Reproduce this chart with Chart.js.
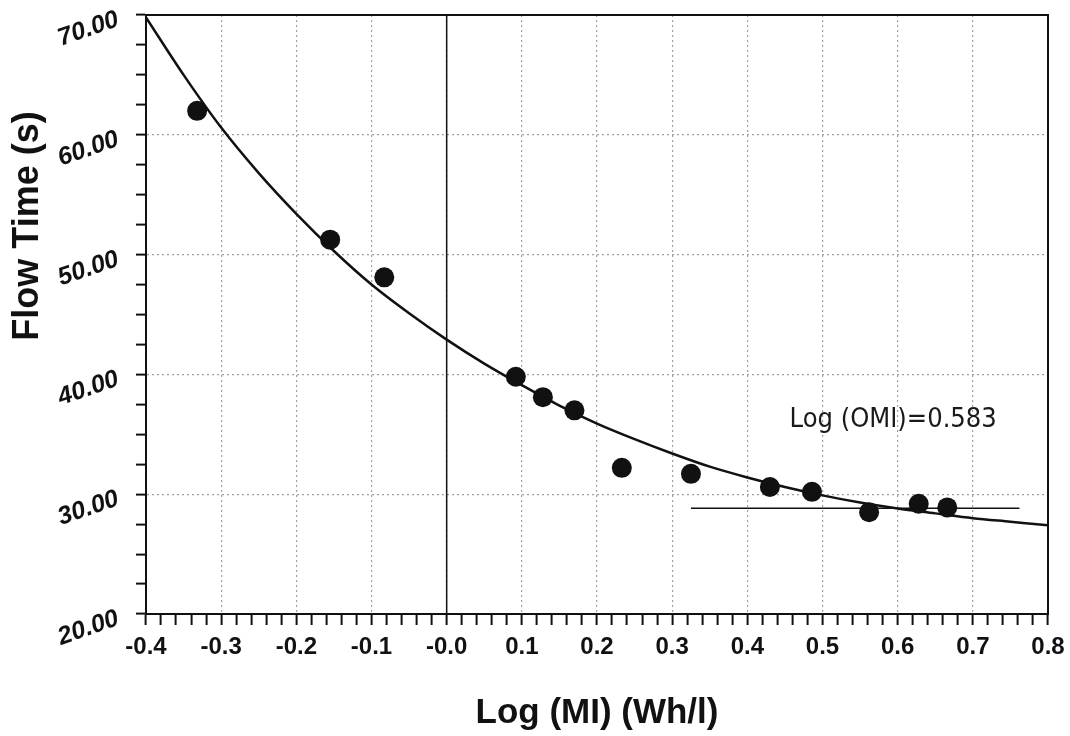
<!DOCTYPE html>
<html>
<head>
<meta charset="utf-8">
<title>Flow Time vs Log (MI)</title>
<script src="https://cdn.jsdelivr.net/npm/chart.js@4/dist/chart.umd.min.js"></script>
<style>
  html, body { margin: 0; padding: 0; background: #fff; }
  #wrap { width: 1070px; height: 736px; }
</style>
</head>
<body>
<div id="wrap"><canvas id="flowChart"></canvas></div>
<script>
// measured points (log MI, flow time)
const pointX = [-0.332, -0.155, -0.083, 0.092, 0.128, 0.170, 0.233, 0.325, 0.430, 0.486, 0.562, 0.628, 0.666];
const pointY = [62.0, 51.25, 48.1, 39.8, 38.1, 37.0, 32.2, 31.7, 30.6, 30.2, 28.5, 29.2, 28.9];

// fitted curve
const curveX = [-0.40, -0.35, -0.30, -0.25, -0.20, -0.15, -0.10, -0.05, 0.00, 0.05, 0.10, 0.15, 0.20,
                0.25, 0.30, 0.35, 0.40, 0.45, 0.50, 0.55, 0.60, 0.65, 0.70, 0.75, 0.80];
const curveY = [69.8, 65.0, 60.6, 56.8, 53.4, 50.3, 47.5, 45.1, 42.9, 40.9, 39.1, 37.4, 35.9,
                34.6, 33.4, 32.3, 31.4, 30.6, 29.9, 29.3, 28.8, 28.4, 28.0, 27.7, 27.4];

// reference lines
const zeroLineX = [0, 0];
const zeroLineY = [20, 70];
const omiLineX = [0.325, 0.762];
const omiLineY = [28.83, 28.83];

// annotation
const noteText = "Log (OMI)=0.583";
const noteX = 0.594;
const noteY = 36.2;

const xMin = -0.4, xMax = 0.8;
const yMin = 20, yMax = 70;
const xTitle = "Log (MI) (Wh/l)";
const yTitle = "Flow Time (s)";

const toPts = (xs, ys) => xs.map((x, i) => ({ x: x, y: ys[i] }));

const isMajorX = (v) => Math.round(v * 100) % 10 === 0;
const isMajorY = (v) => Math.round(v * 10) % 100 === 0;

// frame, y title and the OMI note
const extras = {
  id: "extras",
  afterDraw(chart) {
    const { ctx, chartArea, scales } = chart;
    ctx.save();
    ctx.strokeStyle = "#111";
    ctx.lineWidth = 2;
    ctx.strokeRect(chartArea.left, chartArea.top, chartArea.right - chartArea.left, chartArea.bottom - chartArea.top);

    ctx.fillStyle = "#1a1a1a";
    ctx.font = '27px "DejaVu Sans Condensed", "DejaVu Sans", sans-serif';
    ctx.textAlign = "center";
    ctx.textBaseline = "middle";
    ctx.fillText(noteText, scales.x.getPixelForValue(noteX), scales.y.getPixelForValue(noteY));

    ctx.translate(28, 226);
    ctx.rotate(-Math.PI / 2);
    ctx.fillStyle = "#111";
    ctx.font = 'bold 36px "Liberation Sans", Arial, sans-serif';
    ctx.fillText(yTitle, 0, 0);
    ctx.restore();
  }
};

new Chart(document.getElementById("flowChart"), {
  type: "scatter",
  data: {
    datasets: [
      {
        type: "line",
        label: "fit",
        data: toPts(curveX, curveY),
        borderColor: "#111",
        borderWidth: 2.5,
        pointRadius: 0,
        cubicInterpolationMode: "monotone",
        order: 1
      },
      {
        label: "measured",
        data: toPts(pointX, pointY),
        backgroundColor: "#111",
        borderWidth: 0,
        pointRadius: 10,
        order: 2
      },
      {
        type: "line",
        label: "zero",
        data: toPts(zeroLineX, zeroLineY),
        borderColor: "#111",
        borderWidth: 1.5,
        pointRadius: 0,
        order: 3
      },
      {
        type: "line",
        label: "omi",
        data: toPts(omiLineX, omiLineY),
        borderColor: "#111",
        borderWidth: 1.5,
        pointRadius: 0,
        order: 3
      }
    ]
  },
  options: {
    responsive: true,
    maintainAspectRatio: false,
    animation: false,
    layout: { padding: { top: 15, right: 22, left: 0, bottom: 0 } },
    plugins: {
      legend: { display: false },
      tooltip: { enabled: false }
    },
    scales: {
      x: {
        type: "linear",
        min: xMin,
        max: xMax,
        afterFit: (scale) => {
          scale.height = 122;
          scale.paddingLeft = 0;
          scale.paddingRight = 0;
        },
        ticks: {
          stepSize: 0.02,
          autoSkip: false,
          maxRotation: 0,
          padding: 8,
          color: "#111",
          font: { family: '"Liberation Sans", Arial, sans-serif', size: 24, weight: "bold" },
          callback: (v) => {
            if (!isMajorX(v)) return "";
            if (Math.abs(v) < 1e-9) return "-0.0";
            return v.toFixed(1);
          }
        },
        grid: {
          color: (c) => (c.tick && isMajorX(c.tick.value) ? "#a0a0a0" : "rgba(0,0,0,0)"),
          lineWidth: 1.2,
          tickColor: "#111",
          tickLength: 11,
          tickWidth: 2
        },
        border: { display: true, color: "#111", width: 2, dash: [2, 3] },
        title: {
          display: true,
          text: xTitle,
          color: "#111",
          font: { family: '"Liberation Sans", Arial, sans-serif', size: 35, weight: "bold" },
          padding: { top: 0, bottom: 2 }
        }
      },
      y: {
        type: "linear",
        min: yMin,
        max: yMax,
        afterFit: (scale) => {
          scale.width = 146;
          scale.paddingTop = 0;
          scale.paddingBottom = 0;
        },
        ticks: {
          stepSize: 2.5,
          autoSkip: false,
          minRotation: 19,
          maxRotation: 19,
          padding: 18,
          labelOffset: 4,
          color: "#111",
          font: { family: '"Liberation Sans", Arial, sans-serif', size: 25, weight: "bold", style: "italic" },
          callback: (v) => (isMajorY(v) ? v.toFixed(2) : "")
        },
        grid: {
          color: (c) => (c.tick && isMajorY(c.tick.value) ? "#a0a0a0" : "rgba(0,0,0,0)"),
          lineWidth: 1.2,
          tickColor: "#111",
          tickLength: 10,
          tickWidth: 2
        },
        border: { display: true, color: "#111", width: 2, dash: [2, 3] }
      }
    }
  },
  plugins: [extras]
});
</script>
</body>
</html>
